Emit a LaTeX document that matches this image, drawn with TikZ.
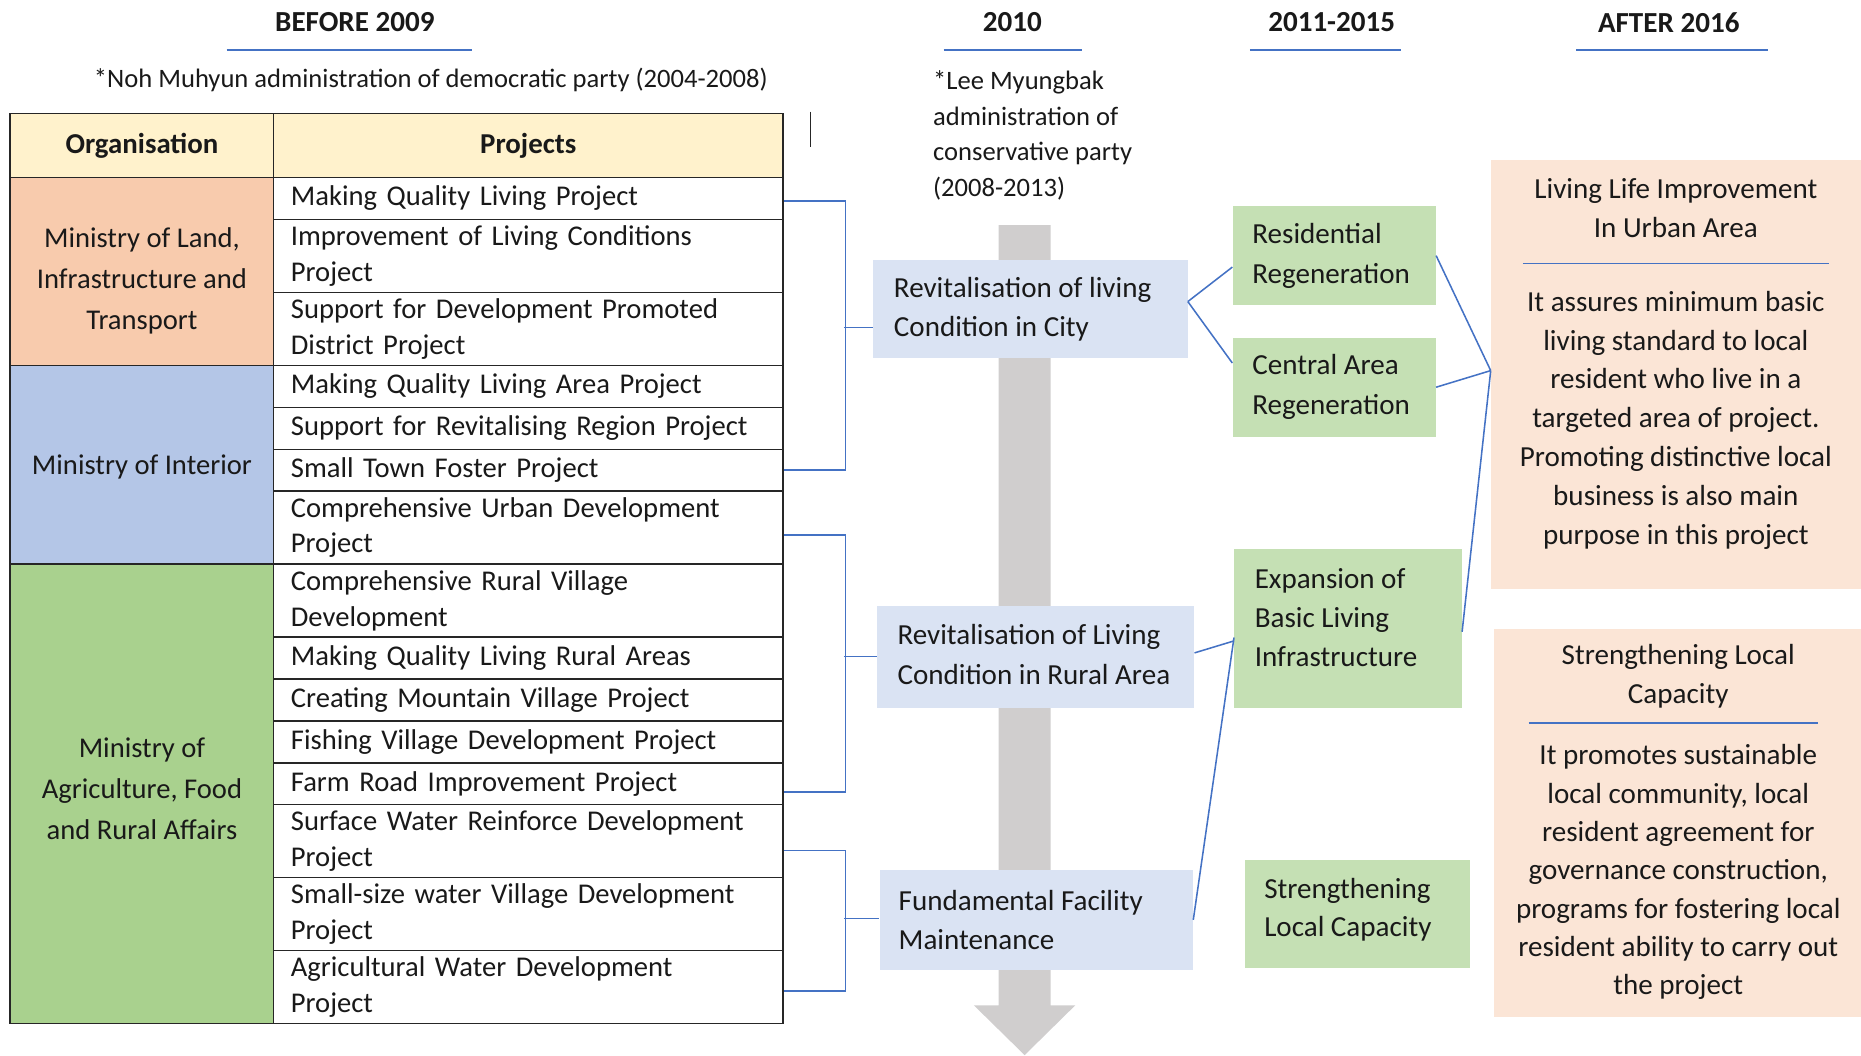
\documentclass[tikz,border=0pt]{standalone}
\usepackage{fontspec}
\setmainfont{Carlito}
\definecolor{headyellow}{HTML}{FFF2CC}
\definecolor{orgorange}{HTML}{F8CBAD}
\definecolor{orgblue}{HTML}{B4C6E7}
\definecolor{orggreen}{HTML}{A9D18E}
\definecolor{boxblue}{HTML}{DAE3F3}
\definecolor{boxgreen}{HTML}{C5E0B4}
\definecolor{boxpeach}{HTML}{FBE5D6}
\definecolor{linkblue}{HTML}{4472C4}
\definecolor{shaftgrey}{HTML}{D0CECE}
\newcommand\prow[4]{\node[projcell, minimum height=#3pt] (#1) at (230,#2) {#4};}
\begin{document}
\begin{tikzpicture}[x=1pt,y=-1pt]
\tikzset{
  every node/.style={font=\fontsize{24.5}{30}\selectfont, text=black!90},
  cellbase/.style={draw=black!85, line width=1.2pt, rectangle, anchor=north west, inner sep=0pt},
  projcell/.style={cellbase, fill=white, minimum width=429pt, text width=400pt, inner xsep=14.5pt, align=left, font=\fontsize{24.1}{30}\selectfont},
  orgcell/.style={cellbase, minimum width=222pt},
  orgtext/.style={align=center, inner sep=0pt, font=\fontsize{24.1}{34.5}\selectfont},
  headcell/.style={cellbase, fill=headyellow, minimum height=54pt, align=center, font=\bfseries\fontsize{24.3}{30}\selectfont},
  panel/.style={rectangle, anchor=north west, inner sep=0pt},
  bluebox/.style={panel, fill=boxblue},
  greenbox/.style={panel, fill=boxgreen},
  peachbox/.style={panel, fill=boxpeach},
  boxtext/.style={anchor=west, align=left, inner sep=0pt, font=\fontsize{24.5}{33.5}\selectfont},
  peachtext/.style={align=center, inner sep=0pt, font=\fontsize{24.5}{32.7}\selectfont},
  period/.style={inner sep=0pt, font=\bfseries\fontsize{24.5}{30}\selectfont},
  note/.style={inner sep=0pt, font=\fontsize{22.4}{30}\selectfont},
  link/.style={draw=linkblue, line width=1.3pt},
  headrule/.style={draw=linkblue, line width=2pt},
  peachrule/.style={draw=linkblue, line width=1.6pt},
}
\useasboundingbox (0,0) rectangle (1568,889);

% period headings
\node[period] (h2009) at (299,19) {BEFORE 2009};
\node[period] (h2010) at (853,19) {2010};
\node[period] (h2011) at (1122,19) {2011-2015};
\node[period] (h2016) at (1406,19) {AFTER 2016};
\draw[headrule] (191,42) -- (398,42);
\draw[headrule] (795,42) -- (912,42);
\draw[headrule] (1053,42) -- (1180,42);
\draw[headrule] (1328,42) -- (1490,42);

% administrations
\node[note] (noh) at (363,67) {*Noh Muhyun administration of democratic party (2004-2008)};
\node[note, anchor=west, align=left] (lee) at (786,114) {*Lee Myungbak\\administration of\\conservative party\\(2008-2013)};
\draw[black!85, line width=1.2pt] (683,94) -- (683,123.6);

% timeline shaft
\fill[shaftgrey] (841.4,189.6) -- (885.2,189.6) -- (885.2,847) -- (906,847)
  -- (863.3,889) -- (820.5,847) -- (841.4,847) -- cycle;

% table
\node[headcell, minimum width=222pt] (horg) at (8,95) {Organisation};
\node[headcell, minimum width=429pt] (hproj) at (230,95) {Projects};
\node[orgcell, fill=orgorange, minimum height=158.3pt] (orgA) at (8,149) {};
\node[orgtext] (orgAText) at ([yshift=-8pt]orgA.center) {Ministry of Land,\\Infrastructure and\\Transport};
\node[orgcell, fill=orgblue, minimum height=167.4pt] (orgB) at (8,307.3) {};
\node[orgtext] (orgBText) at ([yshift=-1.5pt]orgB.center) {Ministry of Interior};
\node[orgcell, fill=orggreen, minimum height=387.2pt] (orgC) at (8,474.7) {};
\node[orgtext] (orgCText) at ([yshift=4pt]orgC.center) {Ministry of\\Agriculture, Food\\and Rural Affairs};
\prow{r1}{149}{35.3}{Making Quality Living Project}
\prow{r2}{184.3}{61.5}{Improvement of Living Conditions\\Project}
\prow{r3}{245.8}{61.5}{Support for Development Promoted\\District Project}
\prow{r4}{307.3}{35.3}{Making Quality Living Area Project}
\prow{r5}{342.6}{35.3}{Support for Revitalising Region Project}
\prow{r6}{377.9}{35.3}{Small Town Foster Project}
\prow{r7}{413.2}{61.5}{Comprehensive Urban Development\\Project}
\prow{r8}{474.7}{61.5}{Comprehensive Rural Village\\Development}
\prow{r9}{536.2}{35.3}{Making Quality Living Rural Areas}
\prow{r10}{571.5}{35.3}{Creating Mountain Village Project}
\prow{r11}{606.8}{35.3}{Fishing Village Development Project}
\prow{r12}{642.1}{35.3}{Farm Road Improvement Project}
\prow{r13}{677.4}{61.5}{Surface Water Reinforce Development\\Project}
\prow{r14}{738.9}{61.5}{Small-size water Village Development\\Project}
\prow{r15}{800.4}{61.5}{Agricultural Water Development\\Project}

% 2010 programmes
\node[bluebox, minimum width=264.7pt, minimum height=82.6pt] (city) at (735.7,219) {};
\node[boxtext] (cityText) at ([xshift=17.3pt]city.west) {Revitalisation of living\\Condition in City};
\node[bluebox, minimum width=267pt, minimum height=86.2pt] (rural) at (739,510) {};
\node[boxtext] (ruralText) at ([xshift=17pt,yshift=2pt]rural.west) {Revitalisation of Living\\Condition in Rural Area};
\node[bluebox, minimum width=264pt, minimum height=83.7pt] (fac) at (741,733) {};
\node[boxtext] (facText) at ([xshift=16pt]fac.west) {Fundamental Facility\\Maintenance};

% 2011-2015 programmes
\node[greenbox, minimum width=171.3pt, minimum height=83.7pt] (res) at (1038.3,173.3) {};
\node[boxtext] (resText) at ([xshift=16.7pt]res.west) {Residential\\Regeneration};
\node[greenbox, minimum width=171.3pt, minimum height=83.7pt] (central) at (1038.3,284.2) {};
\node[boxtext] (centralText) at ([xshift=16.7pt]central.west) {Central Area\\Regeneration};
\node[greenbox, minimum width=191.8pt, minimum height=134.2pt] (exp) at (1039.7,462) {};
\node[boxtext, font=\fontsize{24.5}{32.5}\selectfont] (expText) at ([xshift=17.3pt,yshift=9pt]exp.west) {Expansion of\\Basic Living\\Infrastructure};
\node[greenbox, minimum width=190.1pt, minimum height=90.7pt] (local) at (1048.4,724.6) {};
\node[boxtext, font=\fontsize{24.5}{32}\selectfont] (localText) at ([xshift=16.6pt,yshift=4pt]local.west) {Strengthening\\Local Capacity};

% after 2016 programmes
\node[peachbox, minimum width=312pt, minimum height=360.7pt] (urban) at (1256,135) {};
\node[peachtext] (urbanTitle) at (1412,175.5) {Living Life Improvement\\In Urban Area};
\draw[peachrule] (1283,222) -- (1541,222);
\node[peachtext] (urbanBody) at (1412,354) {It assures minimum basic\\living standard to local\\resident who live in a\\targeted area of project.\\Promoting distinctive local\\business is also main\\purpose in this project};
\node[peachbox, minimum width=309.2pt, minimum height=327.6pt] (solid) at (1258.8,529.4) {};
\node[peachtext] (solidTitle) at (1414,570) {Strengthening Local\\Capacity};
\draw[peachrule] (1288,609) -- (1532,609);
\node[peachtext, font=\fontsize{24.5}{32.3}\selectfont] (solidBody) at (1414,735) {It promotes sustainable\\local community, local\\resident agreement for\\governance construction,\\programs for fostering local\\resident ability to carry out\\the project};

% brackets from the project table
\draw[link] ([yshift=-2pt]r1.east) -- ++(52,0) |- (r6.east);
\coordinate (t1) at (711,276);
\draw[link] (t1) -- (t1 -| city.west);
\draw[link] ([yshift=-6pt]r7.east) -- ++(52,0) |- ([yshift=-7pt]r12.east);
\coordinate (t2) at (711,553);
\draw[link] (t2) -- (t2 -| rural.west);
\draw[link] ([yshift=-8pt]r13.east) -- ++(52,0) |- ([yshift=-3pt]r15.east);
\coordinate (t3) at (711,774);
\draw[link] (t3) -- (t3 -| fac.west);

% links between periods
\coordinate (hub) at ([yshift=3.3pt]urban.west);
\draw[link] ([yshift=6.4pt]city.east) -- ([yshift=-9.7pt]res.west);
\draw[link] ([yshift=6.4pt]city.east) -- ([yshift=20.4pt]central.west);
\draw[link] (res.east) -- (hub);
\draw[link] (central.east) -- (hub);
\draw[link] ([yshift=-3pt]exp.east) -- (hub);
\draw[link] ([yshift=3.2pt]rural.east) -- ([yshift=-10.7pt]exp.west);
\draw[link] (fac.east) -- ([yshift=-7.9pt]exp.west);
\end{tikzpicture}
\end{document}
